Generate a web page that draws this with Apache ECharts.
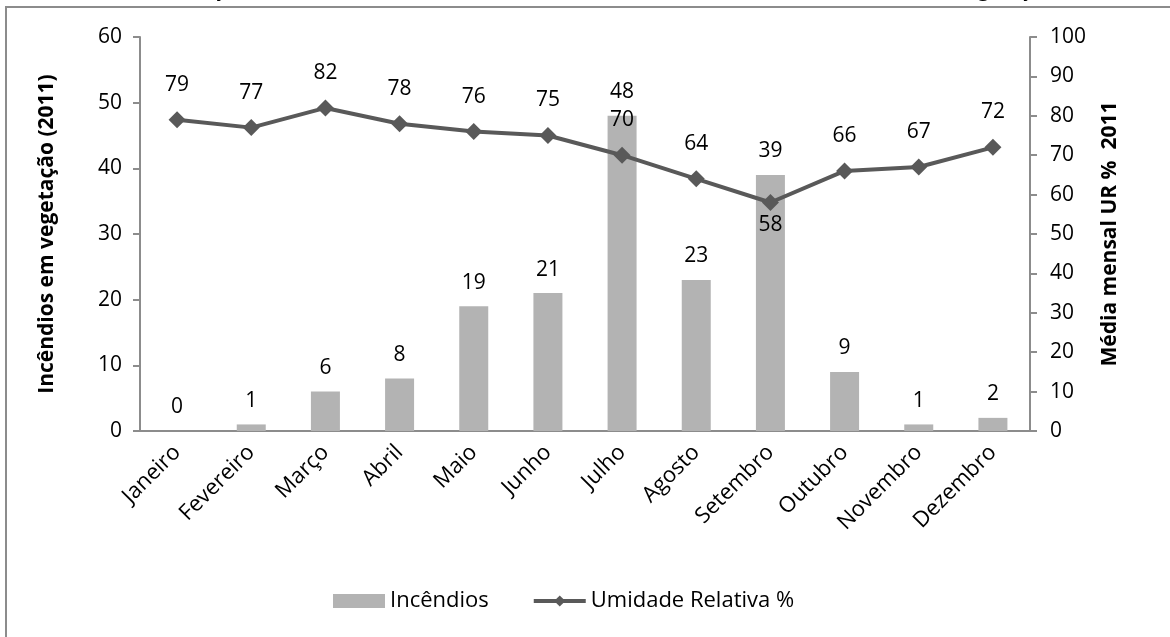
<!DOCTYPE html>
<html lang="pt">
<head>
    <meta charset="UTF-8">
    <title>Incêndios em vegetação 2011</title>
    <script src="https://cdn.jsdelivr.net/npm/echarts@6/dist/echarts.min.js"></script>
</head>
<body style="margin:0">
<div id="main" style="width:1170px;height:637px"></div>
<script>
    // dados
    const meses = ['Janeiro', 'Fevereiro', 'Março', 'Abril', 'Maio', 'Junho',
        'Julho', 'Agosto', 'Setembro', 'Outubro', 'Novembro', 'Dezembro'];
    const incendios = [0, 1, 6, 8, 19, 21, 48, 23, 39, 9, 1, 2];
    const umidade = [79, 77, 82, 78, 76, 75, 70, 64, 58, 66, 67, 72];

    const fonte = '"Open Sans", "DejaVu Sans", sans-serif';
    const cinzaEixo = '#8c8c8c';
    const myChart = echarts.init(document.getElementById('main'));

    const option = {
        animation: false,
        textStyle: {fontFamily: fonte},
        title: {
            text: 'Gráfico 4 – Relação entre o número de incêndios e a umidade relativa do ar – Incêndios em vegetação 2011',
            left: 'center',
            top: -25,
            textStyle: {fontSize: 21, fontWeight: 'normal', color: '#000', fontFamily: fonte}
        },
        graphic: [{
            type: 'rect',
            shape: {x: 6, y: 7, width: 1300, height: 800},
            style: {fill: 'none', stroke: cinzaEixo, lineWidth: 2},
            silent: true
        }],
        legend: {
            bottom: 20,
            left: 328,
            itemGap: 43,
            textStyle: {fontSize: 22, color: '#000', fontFamily: fonte},
            data: [
                {name: 'Incêndios', icon: 'rect', itemStyle: {color: '#b3b3b3'}},
                {name: 'Umidade Relativa %', lineStyle: {width: 4, color: '#595959'}}
            ],
            itemWidth: 52,
            itemHeight: 14
        },
        grid: {left: 140, right: 140, top: 37, bottom: 206},
        xAxis: {
            type: 'category',
            data: meses,
            axisLine: {lineStyle: {color: cinzaEixo, width: 2}},
            axisTick: {lineStyle: {color: cinzaEixo, width: 2}, length: 7},
            axisLabel: {rotate: 45, fontSize: 22, color: '#000', margin: 18, interval: 0}
        },
        yAxis: [{
            type: 'value',
            min: 0, max: 60, interval: 10,
            name: 'Incêndios em vegetação (2011)',
            nameLocation: 'middle',
            nameGap: 82,
            nameTextStyle: {fontSize: 21, fontWeight: 'bold', color: '#000', fontFamily: fonte},
            axisLine: {show: true, lineStyle: {color: cinzaEixo, width: 2}},
            axisTick: {show: true, lineStyle: {color: cinzaEixo, width: 2}, length: 7},
            axisLabel: {fontSize: 21, color: '#000', margin: 18},
            splitLine: {show: false}
        }, {
            type: 'value',
            min: 0, max: 100, interval: 10,
            name: 'Média mensal UR %  2011',
            nameLocation: 'middle',
            nameGap: 70,
            nameTextStyle: {fontSize: 21, fontWeight: 'bold', color: '#000', fontFamily: fonte},
            axisLine: {show: true, lineStyle: {color: cinzaEixo, width: 2}},
            axisTick: {show: true, lineStyle: {color: cinzaEixo, width: 2}, length: 7},
            axisLabel: {fontSize: 21, color: '#000', margin: 20},
            splitLine: {show: false}
        }],
        series: [{
            name: 'Incêndios',
            type: 'bar',
            data: incendios,
            barWidth: 29,
            itemStyle: {color: '#b3b3b3'},
            label: {show: true, position: 'top', distance: 13, fontSize: 21, color: '#000'}
        }, {
            name: 'Umidade Relativa %',
            type: 'line',
            yAxisIndex: 1,
            data: umidade.map(function (v, i) {
                // Setembro tem o rótulo abaixo do ponto
                if (i === 8) {
                    return {value: v, label: {position: 'bottom', distance: 4}};
                }
                return v;
            }),
            symbol: 'diamond',
            symbolSize: 17,
            lineStyle: {color: '#595959', width: 4},
            itemStyle: {color: '#595959'},
            label: {show: true, position: 'top', distance: 16, fontSize: 21, color: '#000'}
        }]
    };

    myChart.setOption(option);
</script>
</body>
</html>
